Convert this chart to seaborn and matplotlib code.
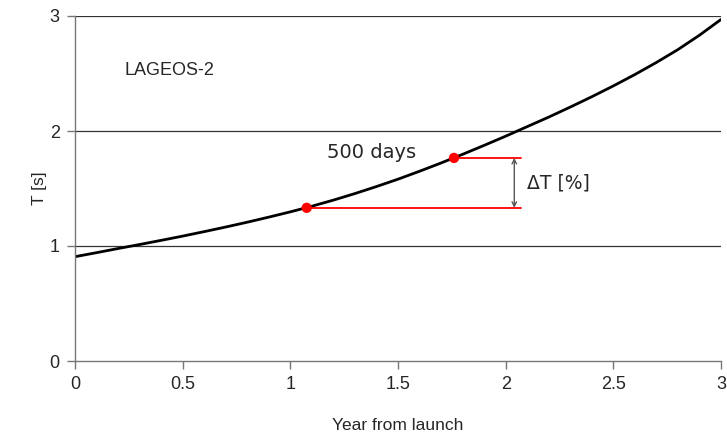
import numpy as np
import pandas as pd
import matplotlib
matplotlib.use("Agg")
import matplotlib.pyplot as plt
import seaborn as sns

# Spin period of LAGEOS-2 versus time since launch (sampled every 0.1 yr)
years = [0.0, 0.1, 0.2, 0.3, 0.4, 0.5, 0.6, 0.7, 0.8, 0.9, 1.0,
         1.1, 1.2, 1.3, 1.4, 1.5, 1.6, 1.7, 1.8, 1.9, 2.0,
         2.1, 2.2, 2.3, 2.4, 2.5, 2.6, 2.7, 2.8, 2.9, 3.0]
period_s = [0.907, 0.942, 0.978, 1.013, 1.049, 1.086, 1.125, 1.165, 1.207, 1.251, 1.297,
            1.346, 1.399, 1.456, 1.517, 1.581, 1.650, 1.722, 1.797, 1.875, 1.955,
            2.038, 2.121, 2.208, 2.298, 2.392, 2.491, 2.596, 2.708, 2.833, 2.970]

# Two epochs 500 days apart
marker_years = [1.076, 1.76]
marker_period = [1.332, 1.766]
bracket_end = 2.07
arrow_x = 2.04

sns.set_theme(style="white")
plt.rcParams["font.family"] = ["Liberation Sans", "DejaVu Sans"]

fig = plt.figure(figsize=(7.27, 4.38), dpi=100)
ax = fig.add_axes([75 / 727, 77 / 438, 646 / 727, 345 / 438])

curve = pd.DataFrame({"year": years, "T": period_s})
sns.lineplot(data=curve, x="year", y="T", ax=ax, color="black", lw=2.0)

# horizontal grid lines
for g in [1, 2, 3]:
    ax.axhline(g, color="#333333", lw=0.9, zorder=0)

# red reference lines from each marked epoch
for xm, ym in zip(marker_years, marker_period):
    ax.plot([xm, bracket_end], [ym, ym], color="red", lw=1.3, zorder=2)

pts = pd.DataFrame({"year": marker_years, "T": marker_period})
sns.scatterplot(data=pts, x="year", y="T", ax=ax, color="red", s=55,
                edgecolor="none", zorder=4)

ax.annotate("", xy=(arrow_x, marker_period[1]), xytext=(arrow_x, marker_period[0]),
            arrowprops=dict(arrowstyle="<->", color="#555555", lw=1.0,
                            shrinkA=0, shrinkB=0, mutation_scale=8))

ax.text(0.228, 2.53, "LAGEOS-2", fontsize=13, va="center", ha="left")
ax.text(1.17, 1.81, "500 days", fontsize=14, va="center", ha="left",
        family=["DejaVu Sans"])
ax.text(2.10, 1.55, "ΔT [%]", fontsize=13.5, va="center", ha="left",
        family=["DejaVu Sans"])

ax.set_xlim(0, 3)
ax.set_ylim(0, 3)
ax.set_xticks([0, 0.5, 1, 1.5, 2, 2.5, 3])
ax.set_xticklabels(["0", "0.5", "1", "1.5", "2", "2.5", "3"])
ax.set_yticks([0, 1, 2, 3])
ax.set_yticklabels(["0", "1", "2", "3"])
ax.set_xlabel("Year from launch", fontsize=12.5, labelpad=18)
ax.set_ylabel("T [s]", fontsize=12.5, labelpad=2)
ax.tick_params(axis="both", labelsize=13, length=6, width=1, color="#777777",
               direction="out", pad=5, bottom=True, left=True)

for side in ["top", "right"]:
    ax.spines[side].set_visible(False)
for side in ["left", "bottom"]:
    ax.spines[side].set_color("#777777")
    ax.spines[side].set_linewidth(1.0)

fig.savefig("out.png", dpi=100, facecolor="white")
